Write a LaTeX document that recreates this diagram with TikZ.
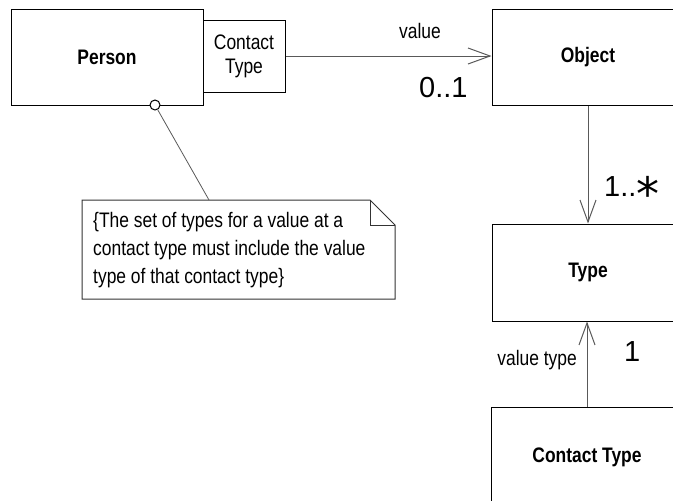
\documentclass[tikz,border=0pt]{standalone}
\usepackage{fontspec}
\setmainfont{Liberation Sans}[FakeStretch=0.83]
\newfontfamily\numfont{Liberation Sans}
\newfontfamily\starfont{DejaVu Sans}
\usetikzlibrary{arrows.meta}

\begin{document}
\begin{tikzpicture}[x=1pt,y=-1pt,
  box/.style={draw=black, line width=1pt, inner sep=0pt,
    font=\fontsize{21}{24}\selectfont\bfseries},
  rolelbl/.style={font=\fontsize{21}{24}\selectfont, inner sep=0pt},
  mult/.style={font=\numfont\fontsize{29}{30}\selectfont, inner sep=0pt},
  conn/.style={draw=black!65, line width=1pt},
  nav/.style={-{Straight Barb[length=22pt,width=16pt,line width=1pt]}},
  notebox/.style={draw=black!80, line width=1pt}
]
\useasboundingbox (0,0) rectangle (673,501);
\clip (0,0) rectangle (673,501);

% classes
\node[box, minimum width=192pt, minimum height=96pt] (person) at (107,57) {Person};
\node[box, font=\fontsize{21}{24}\selectfont, align=center,
      minimum width=82pt, minimum height=72pt] (qual) at (244,56) {Contact\\Type};
\node[box, minimum width=192pt, minimum height=96pt] (obj) at (588,57) {Object};
\node[box, minimum width=192pt, minimum height=97pt] (type) at (588,272.5) {Type};
\node[box, minimum width=192pt, minimum height=100pt] (ct) at (587,457) {Contact Type};

% associations
\draw[conn, nav] (qual.east) -- (qual.east -| obj.west);
\draw[conn, nav] (obj.south) -- (type.north);
\draw[conn, nav] (ct.north) -- (ct.north |- type.south);

% role names and multiplicities
\node[rolelbl, anchor=base] (valuelbl) at (420,38) {value};
\node[mult, anchor=base west] (m01) at (419,97) {0..1};
\node[mult, anchor=base west] (m1n) at (604,196)
  {1..\raisebox{-14.3pt}[20pt][0pt]{\starfont\fontsize{46}{46}\selectfont *}};
\node[rolelbl, anchor=base east] (vtlbl) at (577,365) {value type};
\node[mult, anchor=base west] (m1) at (624,361) {1};

% constraint note
\draw[notebox] (82,200) -- (370,200) -- (395,225) -- (395,299) -- (82,299) -- cycle;
\draw[notebox] (370,200) -- (370,225) -- (395,225);
\coordinate (notetop) at (209,200);
\node[rolelbl, anchor=north west, align=left, font=\fontsize{21}{28}\selectfont]
  (notetext) at (93,212)
  {\{The set of types for a value at a\\
   contact type must include the value\\
   type of that contact type\}};

% note anchor
\node[circle, draw=black, line width=1pt, fill=white, minimum size=10pt, inner sep=0pt]
  (pin) at (155,105) {};
\draw[conn, line width=0.8pt] (pin) -- (notetop);
\end{tikzpicture}
\end{document}
